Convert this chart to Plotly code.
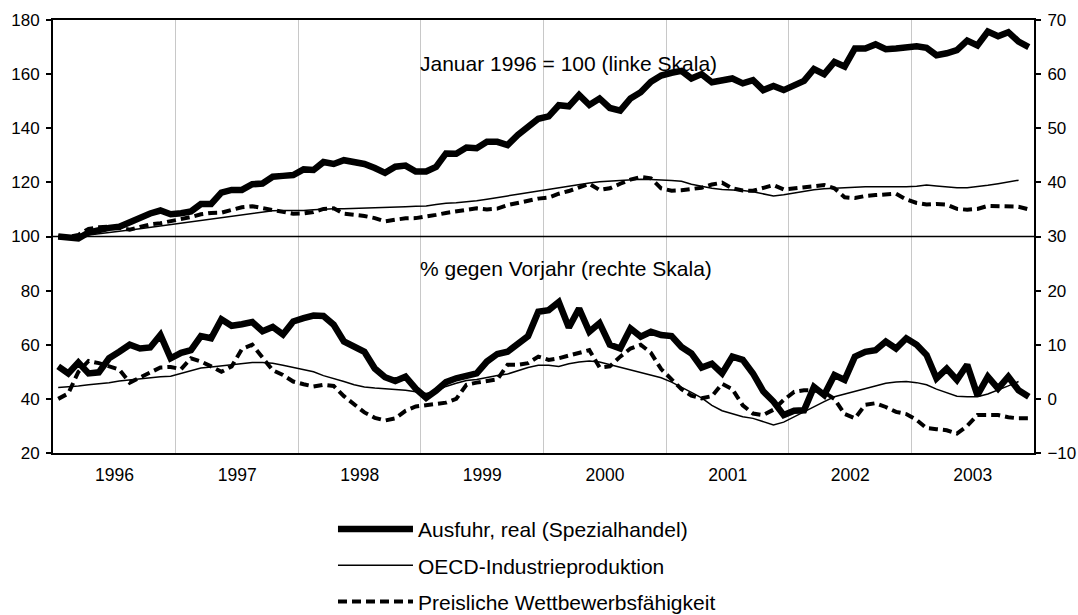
import pandas as pd
import plotly.graph_objects as go

# Monthly observations, January 1996 to December 2003
months = pd.date_range("1996-01-01", periods=96, freq="MS")

# Index values, January 1996 = 100 (left scale)
ausfuhr_index = [
    100.0, 99.6, 99.3, 101.5, 102.5, 103.2, 103.6, 105.3, 107.2, 108.5, 109.6, 108.2,
    108.6, 109.3, 112.0, 112.0, 116.2, 117.2, 117.2, 119.3, 119.6, 122.1, 122.4, 122.7,
    124.8, 124.6, 127.5, 126.8, 128.2, 127.6, 126.8, 125.3, 123.5, 125.8, 126.2, 124.0,
    124.0, 125.7, 130.7, 130.6, 132.9, 132.6, 135.0, 135.0, 133.8, 137.5, 140.5, 143.5,
    144.4, 148.5, 148.1, 152.3, 148.6, 151.0, 147.5, 146.5, 151.0, 153.3, 157.2, 159.5,
    160.5, 161.2, 158.4, 160.0, 157.0, 157.4, 158.4, 156.6, 157.8, 154.1, 155.6, 154.1,
    155.8, 157.5, 161.9, 160.0, 164.5, 162.8, 169.5, 169.5, 171.0, 169.2, 169.5, 170.0,
    170.3, 169.7, 167.0, 167.7, 168.9, 172.4, 170.6, 175.7, 174.0, 175.5, 172.0, 170.0,
]
oecd_index = [
    100.0, 100.1, 100.3, 100.6, 101.0, 101.5, 102.0, 102.4, 102.9, 103.4, 103.9, 104.4,
    105.0, 105.5, 106.1, 106.5, 107.0, 107.5, 108.0, 108.6, 109.1, 109.5, 109.6, 109.5,
    109.6, 109.9, 110.2, 110.3, 110.3, 110.4, 110.4, 110.5, 110.7, 110.9, 111.0, 111.2,
    111.3, 111.8, 112.3, 112.5, 112.8, 113.2, 113.8, 114.3, 115.0, 115.6, 116.2, 116.8,
    117.3, 118.0, 118.6, 119.3, 119.8, 120.2, 120.5, 120.8, 121.0, 121.2, 121.1, 121.0,
    120.7, 120.4, 119.3, 118.6, 117.8, 117.4, 117.2, 117.0, 116.5, 115.8, 115.0, 115.4,
    116.0, 116.8, 117.3, 117.6, 117.8, 118.0, 118.3, 118.4, 118.4, 118.4, 118.3, 118.4,
    118.6, 119.0, 118.7, 118.4, 118.0, 118.0, 118.4, 118.9, 119.5, 120.1, 120.8, None,
]
preis_index = [
    100.0, 99.8, 100.6, 102.8, 103.4, 103.6, 103.2, 102.5, 103.5, 104.5, 104.9, 105.6,
    106.2, 107.2, 108.2, 108.7, 108.8, 109.8, 110.8, 111.2, 110.5, 109.5, 109.0, 108.4,
    108.5, 109.0, 110.2, 110.4, 108.4, 108.0, 107.6, 106.8, 105.6, 106.2, 106.7, 106.8,
    107.3, 108.0, 108.7, 109.2, 110.0, 110.4, 110.0, 110.3, 111.6, 112.5, 113.2, 114.0,
    114.4, 115.8, 116.8, 118.0, 119.5, 117.2, 117.8, 119.5, 121.0, 122.0, 121.5, 117.8,
    116.9, 117.1, 117.4, 118.0, 119.2, 119.9, 117.8, 117.0, 116.9, 117.8, 119.0, 117.4,
    117.8, 118.2, 118.7, 119.0, 117.8, 114.5, 114.2, 115.0, 115.3, 115.5, 115.8, 113.7,
    112.4, 111.8, 112.0, 111.8, 110.2, 109.9, 110.2, 111.3, 111.2, 111.0, 111.0, 110.0,
]

# Change on previous year in % (right scale)
ausfuhr_yoy = [
    6.0, 4.7, 6.7, 4.7, 4.9, 7.5, 8.7, 10.0, 9.3, 9.5, 11.8, 7.5,
    8.5, 9.0, 11.6, 11.2, 14.7, 13.5, 13.8, 14.2, 12.5, 13.3, 11.9, 14.3,
    14.9, 15.4, 15.3, 13.7, 10.6, 9.5, 8.7, 5.6, 4.0, 3.3, 4.1, 1.9,
    0.2, 1.5, 3.1, 3.8, 4.4, 4.7, 6.9, 8.3, 8.7, 10.0, 11.6, 16.1,
    16.4, 17.9, 13.2, 16.7, 12.4, 14.0, 10.0, 9.3, 13.0, 11.5, 12.4, 11.8,
    11.6, 9.6, 8.4, 5.8, 6.5, 4.7, 7.8, 7.2, 4.7, 1.4, -0.5, -3.0,
    -2.2, -2.1, 2.2, 0.7, 4.4, 3.5, 7.8, 8.7, 9.0, 10.6, 9.3, 11.2,
    10.0, 8.1, 3.8, 5.6, 3.5, 6.3, 0.7, 4.1, 1.9, 4.1, 1.6, 0.4,
]
oecd_yoy = [
    2.1, 2.2, 2.4, 2.6, 2.75, 3.0, 3.3, 3.5, 3.8, 4.0, 4.1, 4.2,
    4.7, 5.2, 5.7, 5.9, 6.1, 6.4, 6.6, 6.7, 6.7, 6.6, 6.2, 5.8,
    5.4, 5.0, 4.3, 3.8, 3.2, 2.6, 2.2, 2.0, 1.9, 1.8, 1.6, 1.3,
    1.0, 1.4, 2.3, 2.9, 3.4, 3.6, 4.0, 4.3, 4.6, 5.2, 5.8, 6.2,
    6.2, 6.0, 6.5, 6.8, 7.0, 6.8, 6.3, 5.8, 5.3, 4.8, 4.3, 3.9,
    3.1, 2.2, 1.2, 0.2, -1.2, -2.2, -2.8, -3.3, -3.6, -4.2, -4.8, -4.3,
    -3.3, -2.5, -1.4, -0.5, 0.4, 0.9, 1.3, 1.8, 2.3, 2.9, 3.1, 3.2,
    3.0, 2.6, 1.8, 1.1, 0.5, 0.4, 0.4, 0.9, 1.6, 2.4, 3.2, None,
]
preis_yoy = [
    0.0, 1.0, 5.0, 7.0, 6.6, 6.0, 5.4, 3.0, 3.9, 4.8, 5.8, 5.9,
    5.5, 7.5, 6.9, 6.0, 5.0, 6.0, 9.2, 10.0, 7.5, 5.3, 4.4, 3.2,
    2.7, 2.3, 2.6, 2.4, 0.5, -1.0, -2.5, -3.5, -4.0, -3.6, -2.2, -1.4,
    -1.1, -0.9, -0.7, 0.0, 2.6, 3.0, 3.3, 3.6, 6.3, 6.3, 6.6, 7.8,
    7.2, 7.5, 8.0, 8.5, 9.0, 5.8, 6.0, 7.8, 9.3, 10.0, 8.5, 5.5,
    3.5, 1.8, 0.6, 0.1, 0.5, 2.8, 1.8, -1.2, -2.7, -3.0, -2.0, -0.2,
    1.3, 1.6, 1.6, 1.2, 0.0, -2.8, -3.6, -1.1, -0.8, -1.5, -2.4, -2.8,
    -3.9, -5.4, -5.6, -5.8, -6.4, -5.0, -3.0, -3.0, -3.0, -3.4, -3.6, -3.6,
]

series_names = [
    "Ausfuhr, real (Spezialhandel)",
    "OECD-Industrieproduktion",
    "Preisliche Wettbewerbsfähigkeit",
]
left_ticks = [20, 40, 60, 80, 100, 120, 140, 160, 180]
right_ticks = [-10, 0, 10, 20, 30, 40, 50, 60, 70]

FONT = "Liberation Sans, Arial, sans-serif"
styles = [
    dict(color="black", width=6.5),
    dict(color="black", width=1.5),
    dict(color="black", width=4, dash="9px,5px"),
]

fig = go.Figure()
panels = [
    ("y", [ausfuhr_index, oecd_index, preis_index], True),
    ("y2", [ausfuhr_yoy, oecd_yoy, preis_yoy], False),
]
# draw the thin lines first so the export line sits on top
draw_order = [1, 2, 0]
for axis, values, legend in panels:
    for k in draw_order:
        fig.add_trace(go.Scatter(
            x=months, y=values[k], yaxis=axis, mode="lines",
            name=series_names[k], line=styles[k],
            xperiod="M1", xperiodalignment="middle",
            legendgroup=f"g{k}", legendrank=k + 1,
            showlegend=legend, connectgaps=False,
        ))

fig.add_shape(type="line", xref="paper", x0=0, x1=1, yref="y", y0=100, y1=100,
              line=dict(color="black", width=1.5), layer="above")

fig.add_annotation(text="Januar 1996 = 100 (linke Skala)", xref="paper", yref="paper",
                   x=0.525, y=0.931, showarrow=False, font=dict(size=21, color="black"))
fig.add_annotation(text="% gegen Vorjahr (rechte Skala)", xref="paper", yref="paper",
                   x=0.523, y=0.427, showarrow=False, font=dict(size=21, color="black"))

fig.update_layout(
    width=1078, height=615,
    margin=dict(l=53, r=44, t=20, b=162, autoexpand=False),
    paper_bgcolor="white", plot_bgcolor="white",
    font=dict(family=FONT, size=17, color="black"),
    xaxis=dict(
        type="date", range=["1996-01-01", "2004-01-01"],
        tick0="1996-01-01", dtick="M12", tickformat="%Y", ticklabelmode="period",
        tickfont=dict(size=17.5), ticklabelstandoff=5,
        showgrid=True, gridcolor="#c8c8c8", gridwidth=1,
        showline=True, linecolor="black", linewidth=2, mirror=True,
        ticks="", zeroline=False,
    ),
    yaxis=dict(
        range=[20, 180], tickvals=left_ticks, showgrid=False, zeroline=False,
        showline=True, linecolor="black", linewidth=2, ticklabelstandoff=3,
        ticks="outside", ticklen=5, tickwidth=1.5, tickcolor="black",
    ),
    yaxis2=dict(
        range=[-10, 70], tickvals=right_ticks, overlaying="y", side="right",
        showgrid=False, zeroline=False, ticklabelstandoff=3,
        showline=True, linecolor="black", linewidth=2,
        ticks="outside", ticklen=5, tickwidth=1.5, tickcolor="black",
    ),
    legend=dict(
        x=0.2854, y=-0.129, xanchor="left", yanchor="top",
        traceorder="grouped", tracegroupgap=6, itemwidth=75,
        font=dict(size=21), bgcolor="rgba(0,0,0,0)",
    ),
)

fig.write_html("out.html")
